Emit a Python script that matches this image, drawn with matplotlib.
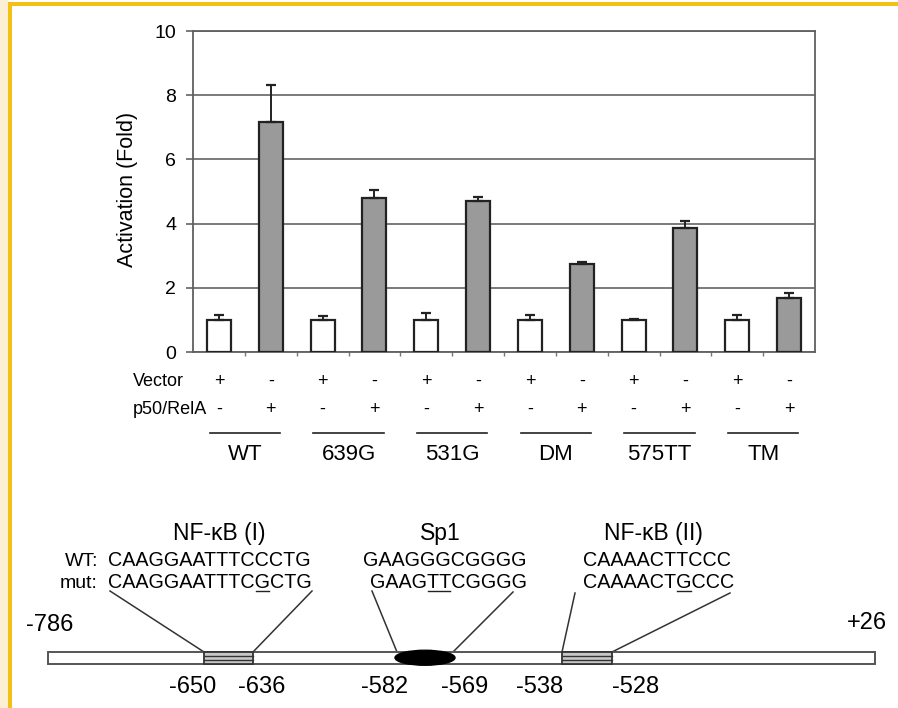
import matplotlib
matplotlib.use('Agg')
import matplotlib.pyplot as plt
from matplotlib.patches import Rectangle, Ellipse
from matplotlib.transforms import blended_transform_factory
import numpy as np

plt.rcParams['font.family'] = ['Liberation Sans', 'DejaVu Sans']

# ---------------- data ----------------
groups = ['WT', '639G', '531G', 'DM', '575TT', 'TM']
vector_vals = [1.0, 1.0, 1.0, 1.0, 1.0, 1.0]
vector_err = [0.15, 0.12, 0.22, 0.14, 0.03, 0.14]
rela_vals = [7.17, 4.79, 4.70, 2.74, 3.85, 1.67]
rela_err = [1.15, 0.25, 0.12, 0.07, 0.22, 0.16]
vector_signs = ['+', '-']
rela_signs = ['-', '+']
row_labels = ['Vector', 'p50/RelA']
yticks = [0, 2, 4, 6, 8, 10]
ylabel = 'Activation (Fold)'

promoter_ends = ['-786', '+26']
site_names = ['NF-κB (I)', 'Sp1', 'NF-κB (II)']
site_wt = ['CAAGGAATTTCCCTG', 'GAAGGGCGGGG', 'CAAAACTTCCC']
site_mut = ['CAAGGAATTTCGCTG', 'GAAGTTCGGGG', 'CAAAACTGCCC']
site_kind = ['box', 'ellipse', 'box']
site_bounds = [('-650', '-636'), ('-582', '-569'), ('-538', '-528')]
seq_row_labels = ['WT:', 'mut:']

# ---------------- figure ----------------
W, H = 898, 708
fig = plt.figure(figsize=(W / 100, H / 100), dpi=100)
fig.patch.set_facecolor('white')

# overlay axes in pixel coords (y from top)
ov = fig.add_axes([0, 0, 1, 1], zorder=5)
ov.set_xlim(0, W)
ov.set_ylim(H, 0)
ov.axis('off')
ov.patch.set_alpha(0)

# frame decoration
ov.add_patch(Rectangle((0, 0), 8, H, facecolor='#fcefd4', edgecolor='none'))
ov.add_patch(Rectangle((8, 2), 3.5, H - 2, facecolor='#f5c016', edgecolor='none'))
ov.add_patch(Rectangle((8, 2), W - 8, 3.5, facecolor='#f5c016', edgecolor='none'))

# ---------------- bar chart ----------------
ax = fig.add_axes([193 / W, 1 - 352 / H, (815 - 193) / W, (352 - 31) / H], zorder=2)
n = len(groups)
xv = np.arange(n) * 2
xr = xv + 1
bw = 0.46
edge = '#222222'
ax.bar(xv, vector_vals, bw, color='white', edgecolor=edge, linewidth=1.6, zorder=3)
ax.bar(xr, rela_vals, bw, color='#9a9a9a', edgecolor=edge, linewidth=1.6, zorder=3)
ax.errorbar(xv, vector_vals, yerr=[np.zeros(n), vector_err], fmt='none',
            ecolor=edge, elinewidth=1.4, capsize=3.6, capthick=1.6, zorder=4)
ax.errorbar(xr, rela_vals, yerr=[np.zeros(n), rela_err], fmt='none',
            ecolor=edge, elinewidth=1.4, capsize=3.6, capthick=1.6, zorder=4)

ax.set_xlim(-0.5, 2 * n - 0.5)
ax.set_ylim(0, 10)
ax.set_yticks(yticks)
ax.set_yticklabels([str(t) for t in yticks], fontsize=14)
ax.set_xticks(np.arange(0.5, 2 * n - 1, 1.0))
ax.set_xticklabels([])
ax.tick_params(axis='y', direction='out', length=5, width=1.1, color='#555555', pad=7)
ax.tick_params(axis='x', direction='out', length=3, width=1.0, color='#777777')
ax.grid(axis='y', color='#707070', linewidth=1.3, zorder=0)
ax.set_axisbelow(True)
for s in ax.spines.values():
    s.set_color('#606060')
    s.set_linewidth(1.3)

ov.text(127, 189, ylabel, rotation=90, ha='center', va='center', fontsize=15.5)

# rows below chart
bt = blended_transform_factory(ax.transData, ov.transData)
row_y = [381, 409]
for lab, y in zip(row_labels, row_y):
    ov.text(133, y, lab, ha='left', va='center', fontsize=13)
for i in range(n):
    for j, (sv, sr) in enumerate(zip(vector_signs, rela_signs)):
        x = 2 * i + j
        ov.text(x, row_y[0], sv, transform=bt, ha='center', va='center', fontsize=13)
        ov.text(x, row_y[1], sr, transform=bt, ha='center', va='center', fontsize=13)
    ov.plot([2 * i - 0.18, 2 * i + 1.18], [433, 433], transform=bt, color='#222222', lw=1.2)
    ov.text(2 * i + 0.5, 455, groups[i], transform=bt, ha='center', va='center', fontsize=16)

# ---------------- promoter diagram ----------------
lc = '#333333'
bar_x0, bar_x1, bar_y, bar_h = 48, 875, 652, 11.5
ov.add_patch(Rectangle((bar_x0, bar_y), bar_x1 - bar_x0, bar_h, facecolor='white',
                       edgecolor='#555555', lw=1.4, zorder=2))
ov.text(50, 625, promoter_ends[0], ha='center', va='center', fontsize=17)
ov.text(867, 623, promoter_ends[1], ha='center', va='center', fontsize=17)

site_span = [(204, 253), (395, 455), (562, 612)]
name_x = [219, 440, 653]
seq_x_wt = [108, 363, 583]
seq_x_mut = [108, 370, 583]
line_tops = [((110, 591), (312, 591)), ((372, 591), (513, 592)), ((575, 593), (730, 593))]
line_bots = [((204, 652), (253, 652)), ((397, 652), (453, 652)), ((562, 652), (612, 652))]
bound_x = [(193, 262), (385, 465), (540, 636)]
seq_fs = 14.2

renderer = fig.canvas.get_renderer()


def text_width(s, fs):
    t = ov.text(0, 0, s, fontsize=fs)
    w = t.get_window_extent(renderer).width
    t.remove()
    return w


for k in range(3):
    x0, x1 = site_span[k]
    if site_kind[k] == 'box':
        ov.add_patch(Rectangle((x0, bar_y), x1 - x0, bar_h, facecolor='#c8c8c8',
                               edgecolor='#333333', lw=1.3, zorder=3))
        for yy in (bar_y + bar_h / 3, bar_y + 2 * bar_h / 3):
            ov.plot([x0, x1], [yy, yy], color='#333333', lw=1.0, zorder=4)
    else:
        ov.add_patch(Ellipse(((x0 + x1) / 2, bar_y + bar_h / 2), x1 - x0, 15,
                             facecolor='black', edgecolor='black', zorder=3))
    for (tx, ty), (bx, by) in zip(line_tops[k], line_bots[k]):
        ov.plot([tx, bx], [ty, by], color=lc, lw=1.1, zorder=1)
    ov.text(name_x[k], 540, site_names[k], ha='center', va='baseline', fontsize=16.5)
    ov.text(seq_x_wt[k], 566, site_wt[k], ha='left', va='baseline', fontsize=seq_fs)
    ov.text(seq_x_mut[k], 588, site_mut[k], ha='left', va='baseline', fontsize=seq_fs)
    # underline mutated characters
    diff = [i for i, (a, b) in enumerate(zip(site_wt[k], site_mut[k])) if a != b]
    if diff:
        i0, i1 = diff[0], diff[-1] + 1
        ux0 = seq_x_mut[k] + text_width(site_mut[k][:i0], seq_fs) if i0 > 0 else seq_x_mut[k]
        ux1 = seq_x_mut[k] + text_width(site_mut[k][:i1], seq_fs)
        ov.plot([ux0 + 1, ux1 - 1], [590.5, 590.5], color='#222222', lw=1.0)
    for lab, bx in zip(site_bounds[k], bound_x[k]):
        ov.text(bx, 687, lab, ha='center', va='center', fontsize=17)

ov.text(98, 566, seq_row_labels[0], ha='right', va='baseline', fontsize=14)
ov.text(98, 588, seq_row_labels[1], ha='right', va='baseline', fontsize=14)

fig.savefig('out.png', dpi=100)
